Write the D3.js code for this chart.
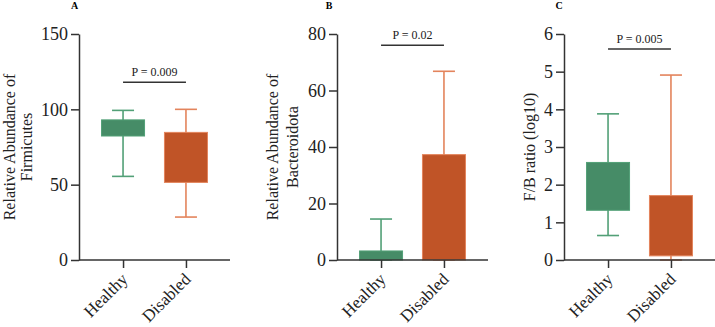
<!DOCTYPE html>
<html lang="en">

<head>
    <meta charset="UTF-8">
    <title>Firmicutes / Bacteroidota box plots</title>
    <script src="https://d3js.org/d3.v7.min.js"></script>
    <style>
        body {
            margin: 0;
            background: #fff;
        }

        .axis path,
        .axis line {
            stroke: #333;
            stroke-width: 1.5px;
        }
    </style>
</head>

<body>

    <svg width="715" height="327"></svg>

    <script>
        const svg = d3.select("svg");
        const serif = "'Liberation Serif', 'DejaVu Serif', serif";

        const groups = ["Healthy", "Disabled"];

        // box values: [min, q1, q3, max]
        const firmicutesHealthy = [55.5, 82.3, 93, 99.3];
        const firmicutesDisabled = [28.5, 51.5, 84.7, 100];
        const bacteroidotaHealthy = [0, 0, 3.2, 14.5];
        const bacteroidotaDisabled = [0, 0, 37.3, 66.8];
        const ratioHealthy = [0.65, 1.32, 2.59, 3.88];
        const ratioDisabled = [0, 0.11, 1.71, 4.91];

        const firmicutesTicks = [0, 50, 100, 150];
        const bacteroidotaTicks = [0, 20, 40, 60, 80];
        const ratioTicks = [0, 1, 2, 3, 4, 5, 6];

        const pValues = ["P = 0.009", "P = 0.02", "P = 0.005"];
        const pBracketY = [118, 76, 5.6];

        const fills = ["#468c67", "#c05427"];
        const strokes = ["#52a077", "#e3845c"];

        const panels = [
            { letter: "A", left: 79, letterX: 74.5, ymax: 150, ticks: firmicutesTicks,
              boxes: [firmicutesHealthy, firmicutesDisabled],
              label: ["Relative Abundance of", "Firmicutes"], labelX: [15, 32] },
            { letter: "B", left: 337, letterX: 329, ymax: 80, ticks: bacteroidotaTicks,
              boxes: [bacteroidotaHealthy, bacteroidotaDisabled],
              label: ["Relative Abundance of", "Bacteroidota"], labelX: [278, 298] },
            { letter: "C", left: 564, letterX: 559, ymax: 6, ticks: ratioTicks,
              boxes: [ratioHealthy, ratioDisabled],
              label: ["F/B ratio (log10)"], labelX: [535] }
        ];

        const plotTop = 34, plotBottom = 260, plotWidth = 151;
        const boxW = 43, capW = 22;

        panels.forEach((p, i) => {
            const g = svg.append("g");

            const x = d3.scalePoint().domain(groups)
                .range([p.left, p.left + plotWidth]).padding(0.7);
            const y = d3.scaleLinear().domain([0, p.ymax]).range([plotBottom, plotTop]);

            // whiskers and boxes
            p.boxes.forEach((b, j) => {
                const cx = x(groups[j]);
                g.append("line")
                    .attr("x1", cx).attr("x2", cx)
                    .attr("y1", y(b[0])).attr("y2", y(b[3]))
                    .attr("stroke", strokes[j]).attr("stroke-width", 1.6);
                [b[0], b[3]].forEach(v => {
                    g.append("line")
                        .attr("x1", cx - capW / 2).attr("x2", cx + capW / 2)
                        .attr("y1", y(v)).attr("y2", y(v))
                        .attr("stroke", strokes[j]).attr("stroke-width", 1.6);
                });
                g.append("rect")
                    .attr("x", cx - boxW / 2)
                    .attr("y", y(b[2]))
                    .attr("width", boxW)
                    .attr("height", Math.max(0, y(b[1]) - y(b[2])))
                    .attr("fill", fills[j])
                    .attr("stroke", strokes[j])
                    .attr("stroke-width", 1);
            });

            // y axis
            const yAxis = g.append("g").attr("class", "axis")
                .attr("transform", `translate(${p.left},0)`)
                .call(d3.axisLeft(y).tickValues(p.ticks).tickFormat(d3.format("d"))
                    .tickSize(8).tickSizeOuter(0).tickPadding(3));
            yAxis.attr("font-family", serif);
            yAxis.selectAll("text").style("font-size", "18px").style("font-family", serif).attr("fill", "#222");

            // x axis
            const xAxis = g.append("g").attr("class", "axis")
                .attr("transform", `translate(0,${plotBottom})`)
                .call(d3.axisBottom(x).tickSize(8).tickSizeOuter(0));
            xAxis.attr("font-family", serif);
            xAxis.select(".domain").attr("d", `M${p.left},0H${p.left + plotWidth}`);
            xAxis.selectAll("text")
                .style("font-size", "17px")
                .style("font-family", serif)
                .attr("fill", "#222")
                .attr("text-anchor", "end")
                .attr("x", 0).attr("y", 0)
                .attr("dy", "0.35em")
                .attr("transform", "translate(1,16) rotate(-45)");

            // y label
            const cy = (plotTop + plotBottom) / 2;
            p.label.forEach((t, k) => {
                g.append("text")
                    .attr("transform", `translate(${p.labelX[k]},${cy}) rotate(-90)`)
                    .attr("text-anchor", "middle")
                    .attr("fill", "#222")
                    .style("font-family", serif)
                    .style("font-size", "16px")
                    .text(t);
            });

            // panel letter
            g.append("text")
                .attr("x", p.letterX).attr("y", 9)
                .attr("text-anchor", "middle")
                .style("font-family", serif)
                .style("font-size", "10px")
                .style("font-weight", "bold")
                .text(p.letter);

            // significance bracket
            const by = y(pBracketY[i]);
            g.append("line")
                .attr("x1", x(groups[0])).attr("x2", x(groups[1]))
                .attr("y1", by).attr("y2", by)
                .attr("stroke", "#333").attr("stroke-width", 1.5);
            g.append("text")
                .attr("x", (x(groups[0]) + x(groups[1])) / 2)
                .attr("y", by - 6)
                .attr("text-anchor", "middle")
                .attr("fill", "#222")
                .style("font-family", serif)
                .style("font-size", "12px")
                .text(pValues[i]);
        });
    </script>

</body>

</html>
